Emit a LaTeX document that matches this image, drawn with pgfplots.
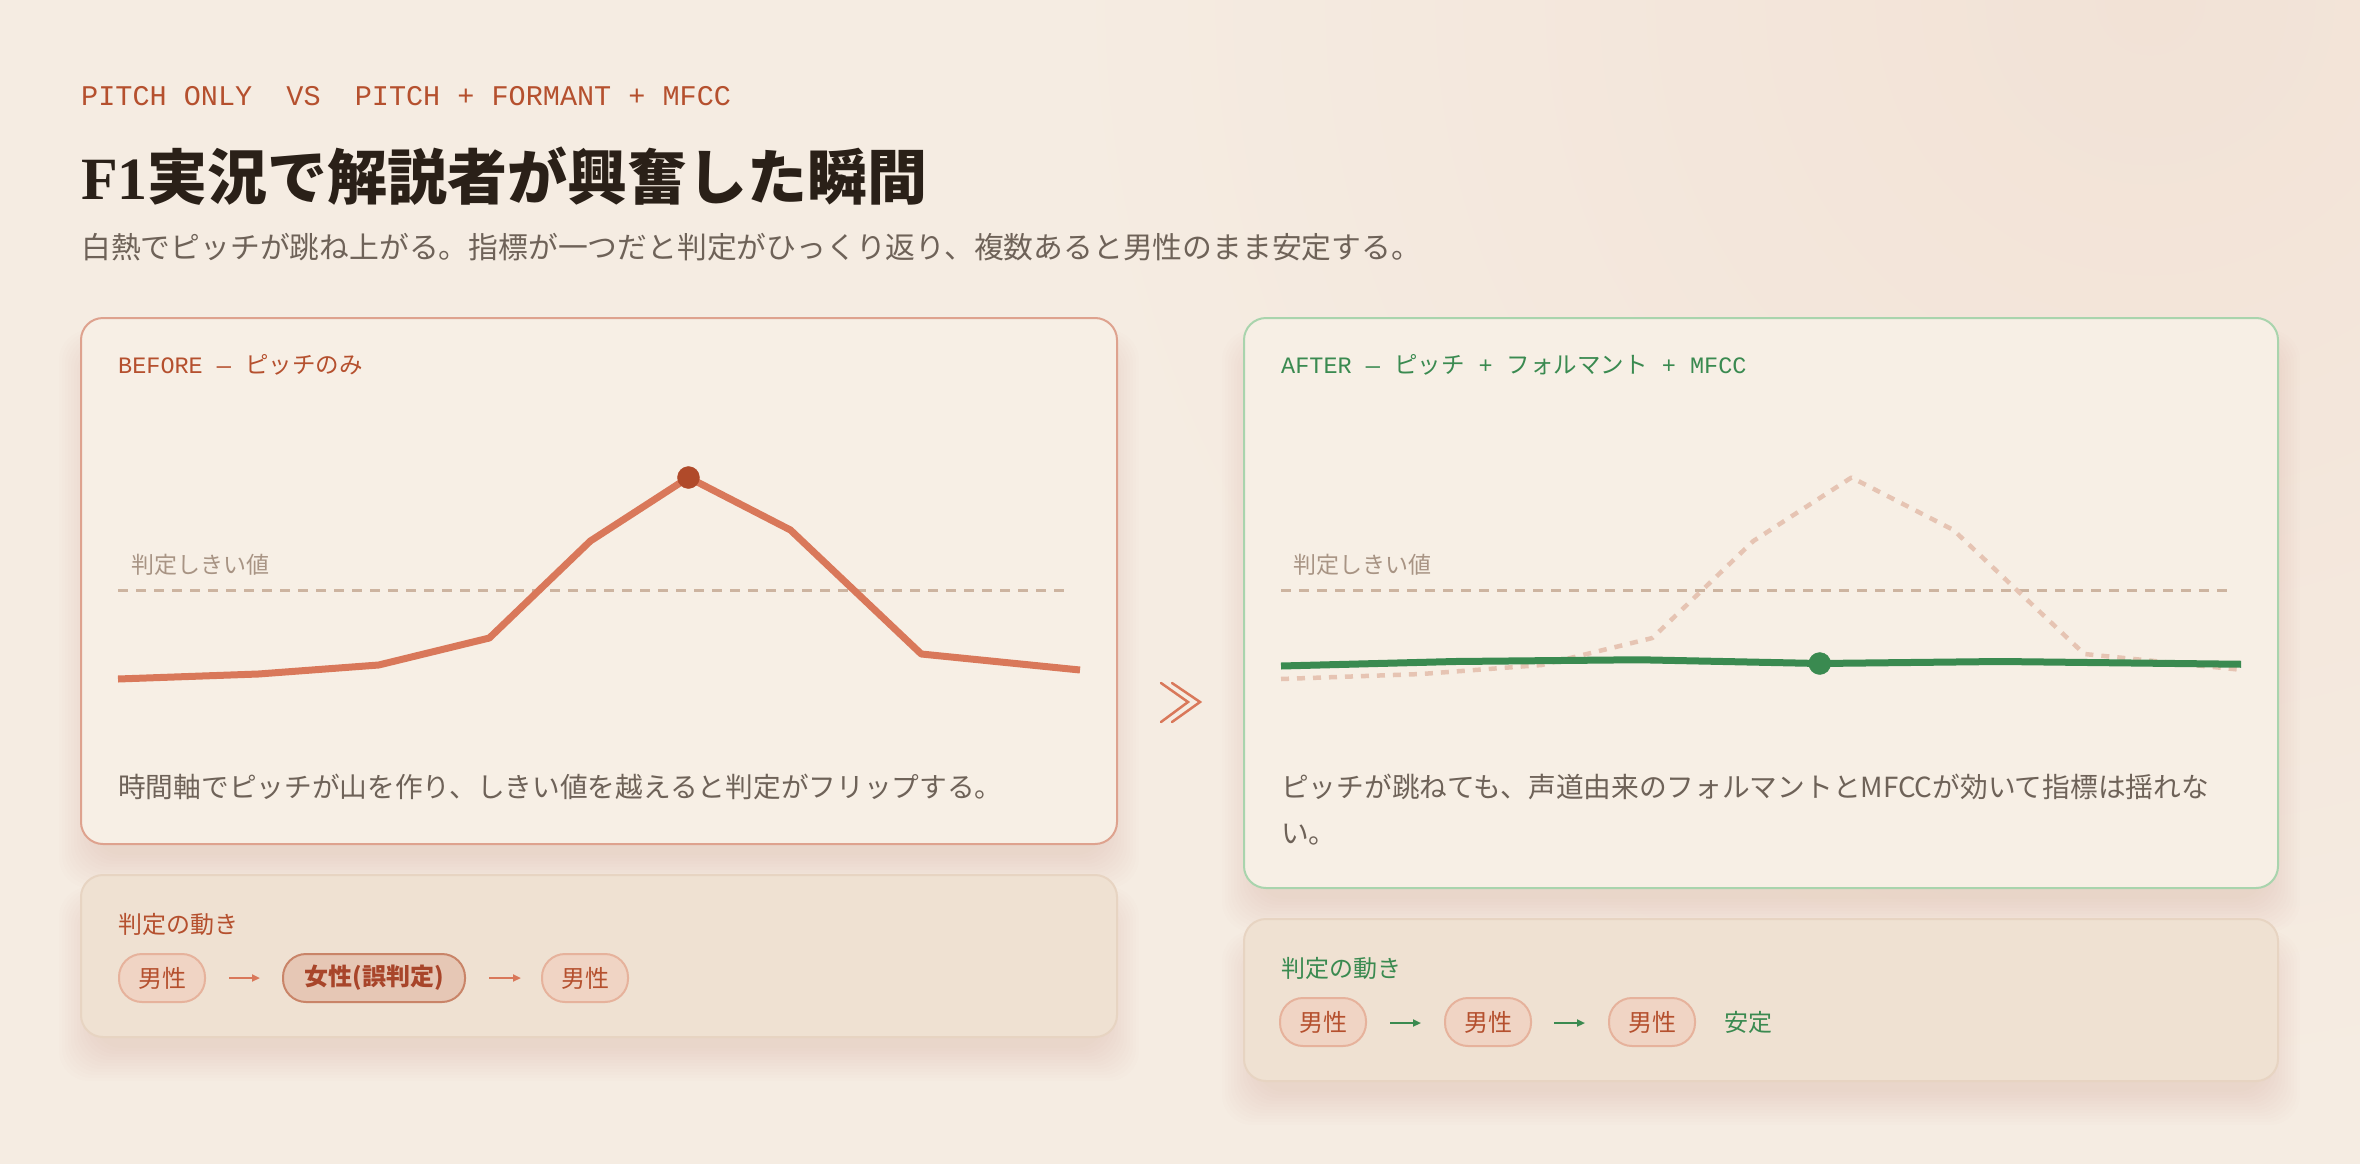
\documentclass[border=0pt]{standalone}
\usepackage{fontspec}
\setmainfont{Noto Sans CJK JP}
\newfontfamily\mono{Liberation Mono}
\newfontfamily\serifb{Liberation Serif}
\usepackage{pgfplots}
\pgfplotsset{compat=1.18}
\usetikzlibrary{arrows.meta}
\definecolor{bg}{HTML}{F5ECE2}
\definecolor{bgpink}{HTML}{F2E2D6}
\definecolor{cardbg}{HTML}{F7EFE5}
\definecolor{leftborder}{HTML}{DEA28E}
\definecolor{rightborder}{HTML}{A9D4AD}
\definecolor{boxbg}{HTML}{EFE1D2}
\definecolor{boxborder}{HTML}{E7D4C2}
\definecolor{rust}{HTML}{B5502E}
\definecolor{titlec}{HTML}{2A2018}
\definecolor{descc}{HTML}{6E6258}
\definecolor{greenc}{HTML}{3A8A50}
\definecolor{linec}{HTML}{D9785A}
\definecolor{peakc}{HTML}{B04A2A}
\definecolor{thrc}{HTML}{CDB4A0}
\definecolor{thrlab}{HTML}{A89484}
\definecolor{ghostc}{HTML}{E6C4B3}
\definecolor{pillfill}{HTML}{F0D4C4}
\definecolor{pillborder}{HTML}{E6B29C}
\definecolor{pillfill2}{HTML}{E6C7B5}
\definecolor{pillborder2}{HTML}{C98468}
\definecolor{pilltext2}{HTML}{A8452A}
\definecolor{shadowc}{HTML}{7A5A40}
\newcommand\fs[1]{\fontsize{#1}{#1}\selectfont}
\newcommand\softshadow[4]{%
  \foreach \i in {1,...,12} {%
    \fill[shadowc, opacity=0.008, rounded corners=30pt]
      ({#1+14-\i*3},{#2+36-\i*2}) rectangle ({#3-14+\i*3},{#4+8+\i*3});
  }}
\pgfplotstableread{
t y
0 8.4
1.46 10.4
2.71 14.0
3.86 24.8
4.91 63.6
5.93 89.0
6.99 68.0
8.35 18.4
10.0 12.0
}\pitch
\pgfplotstableread{
t y
0 13.6
1.81 15.4
3.72 16.1
5.60 14.6
7.48 15.4
9.98 14.3
}\multi
\begin{document}
\begin{tikzpicture}
\begin{scope}[x=1pt,y=-1pt]
\fill[bg] (0,0) rectangle (2360,1164);
\begin{scope}
\clip (0,0) rectangle (2360,1164);
\shade[inner color=bgpink, outer color=bg] (2150,0) circle (1100pt);
\softshadow{81}{318}{1117}{844}
\softshadow{1244}{318}{2278}{888}
\softshadow{81}{875}{1117}{1037}
\softshadow{1244}{919}{2278}{1081}
\end{scope}
% cards
\draw[line width=2pt, draw=leftborder, fill=cardbg, rounded corners=22pt] (81,318) rectangle (1117,844);
\draw[line width=2pt, draw=rightborder, fill=cardbg, rounded corners=22pt] (1244,318) rectangle (2278,888);
\draw[line width=2pt, draw=boxborder, fill=boxbg, rounded corners=22pt] (81,875) rectangle (1117,1037);
\draw[line width=2pt, draw=boxborder, fill=boxbg, rounded corners=22pt] (1244,919) rectangle (2278,1081);
% header
\node[anchor=west, inner sep=0, text=rust] at (81,96) {\mono\fs{28.5}PITCH ONLY\ \ VS\ \ PITCH + FORMANT + MFCC};
\node[anchor=west, inner sep=0, text=titlec] at (81,176) {\fs{60}{\serifb\bfseries F1}\bfseries 実況で解説者が興奮した瞬間};
\node[anchor=west, inner sep=0, text=descc] at (81,247) {\fs{29.8}白熱でピッチが跳ね上がる。指標が一つだと判定がひっくり返り、複数あると男性のまま安定する。};
% card titles
\node[anchor=west, inner sep=0, text=rust] at (118,365) {\fs{23.5}{\mono BEFORE — }ピッチのみ};
\node[anchor=west, inner sep=0, text=greenc] at (1281,365) {\fs{23.5}{\mono AFTER — }ピッチ{\mono{} + }フォルマント{\mono{} + MFCC}};
% threshold labels
\node[anchor=west, inner sep=0, text=thrlab] at (131,565) {\fs{23}判定しきい値};
\node[anchor=west, inner sep=0, text=thrlab] at (1293,565) {\fs{23}判定しきい値};
% captions
\node[anchor=west, inner sep=0, text=descc] at (118,787) {\fs{27.7}時間軸でピッチが山を作り、しきい値を越えると判定がフリップする。};
\node[anchor=west, inner sep=0, text=descc] at (1281,787) {\fs{27.7}ピッチが跳ねても、声道由来のフォルマントとMFCCが効いて指標は揺れな};
\node[anchor=west, inner sep=0, text=descc] at (1281,835) {\fs{27.7}い。};
% chevrons
\draw[linec, line width=2.5pt, line cap=round] (1161,683) -- (1188,702) -- (1161,722);
\draw[linec, line width=2.5pt, line cap=round] (1172,683) -- (1200,702) -- (1172,722);
% bottom left box
\node[anchor=west, inner sep=0, text=rust] at (118,924) {\fs{24}判定の動き};
\node[draw=pillborder, fill=pillfill, line width=2pt, rounded corners=23pt, minimum width=86pt, minimum height=48pt, inner sep=0, text=rust] at (162,978) {\fs{24}男性};
\draw[linec, line width=2pt, -{Triangle[length=8pt,width=7pt]}] (229,978) -- (260,978);
\node[draw=pillborder2, fill=pillfill2, line width=2pt, rounded corners=23pt, minimum width=182pt, minimum height=48pt, inner sep=0, text=pilltext2] at (374,978) {\fs{24}\bfseries 女性(誤判定)};
\draw[linec, line width=2pt, -{Triangle[length=8pt,width=7pt]}] (489,978) -- (521,978);
\node[draw=pillborder, fill=pillfill, line width=2pt, rounded corners=23pt, minimum width=86pt, minimum height=48pt, inner sep=0, text=rust] at (585,978) {\fs{24}男性};
% bottom right box
\node[anchor=west, inner sep=0, text=greenc] at (1281,968) {\fs{24}判定の動き};
\node[draw=pillborder, fill=pillfill, line width=2pt, rounded corners=23pt, minimum width=86pt, minimum height=48pt, inner sep=0, text=rust] at (1323,1022) {\fs{24}男性};
\draw[greenc, line width=2pt, -{Triangle[length=8pt,width=7pt]}] (1390,1023) -- (1421,1023);
\node[draw=pillborder, fill=pillfill, line width=2pt, rounded corners=23pt, minimum width=86pt, minimum height=48pt, inner sep=0, text=rust] at (1488,1022) {\fs{24}男性};
\draw[greenc, line width=2pt, -{Triangle[length=8pt,width=7pt]}] (1554,1023) -- (1585,1023);
\node[draw=pillborder, fill=pillfill, line width=2pt, rounded corners=23pt, minimum width=86pt, minimum height=48pt, inner sep=0, text=rust] at (1652,1022) {\fs{24}男性};
\node[inner sep=0, text=greenc] at (1748,1022) {\fs{24}安定};
\end{scope}
% left chart
\begin{axis}[hide axis, clip=false, x=96.2pt, y=2.5pt, xmin=0, xmax=10, ymin=0, ymax=100,
  anchor=origin, at={(118pt,-700pt)}]
\addplot[thrc, line width=3pt, dash pattern=on 10pt off 8pt] coordinates {(0,44) (9.9,44)};
\addplot[linec, line width=7pt, line join=round] table[x=t,y=y] {\pitch};
\addplot[only marks, mark=*, mark size=11pt, peakc] coordinates {(5.93,89.0)};
\end{axis}
% right chart
\begin{axis}[hide axis, clip=false, x=96.2pt, y=2.5pt, xmin=0, xmax=10, ymin=0, ymax=100,
  anchor=origin, at={(1281pt,-700pt)}]
\addplot[thrc, line width=3pt, dash pattern=on 10pt off 8pt] coordinates {(0,44) (9.89,44)};
\addplot[ghostc, line width=4.5pt, dash pattern=on 8pt off 8pt, line join=round] table[x=t,y=y] {\pitch};
\addplot[greenc, line width=7pt, line join=round] table[x=t,y=y] {\multi};
\addplot[only marks, mark=*, mark size=11pt, greenc] coordinates {(5.60,14.6)};
\end{axis}
\end{tikzpicture}
\end{document}
